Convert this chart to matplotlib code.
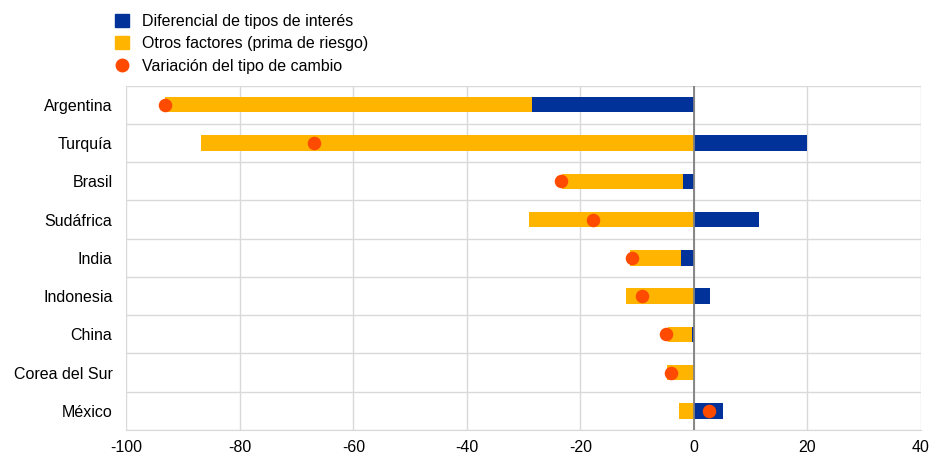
import matplotlib
matplotlib.use("Agg")
import matplotlib.pyplot as plt
from matplotlib.lines import Line2D
from matplotlib.patches import Patch
import numpy as np

plt.rcParams['font.family'] = ['Liberation Sans', 'DejaVu Sans']

countries = ["Argentina", "Turquía", "Brasil", "Sudáfrica", "India",
             "Indonesia", "China", "Corea del Sur", "México"]
diferencial = [-28.6, 20.0, -1.9, 11.4, -2.2, 2.9, -0.3, 0.0, 5.2]
otros = [-64.6, -86.8, -21.4, -29.1, -9.0, -11.9, -4.2, -4.8, -2.6]
variacion = [-93.2, -67.0, -23.5, -17.7, -11.0, -9.1, -4.9, -4.1, 2.7]
xticks = [-100, -80, -60, -40, -20, 0, 20, 40]

blue = "#003299"
yellow = "#FFB400"
orange = "#FF4B00"

fig = plt.figure(figsize=(9.31, 4.57), dpi=100)
ax = fig.add_axes([126.3/931, 1-430/457, (921-126.3)/931, (430-85.7)/457])

n = len(countries)
y = np.arange(n)
d = np.array(diferencial)
o = np.array(otros)
# diverging stack: yellow starts where blue ends if same sign, else at 0
left_o = np.where(np.sign(d) == np.sign(o), d, 0.0)
h = 0.4
ax.barh(y, d, height=h, color=blue, zorder=3)
ax.barh(y, o, left=left_o, height=h, color=yellow, zorder=3)
ax.scatter(variacion, y, s=95, color=orange, zorder=5, linewidths=0)

ax.set_ylim(n - 0.5, -0.5)
ax.set_xlim(-100, 40)
ax.set_xticks(xticks)
ax.set_xticklabels([str(t) for t in xticks], fontsize=11.5)
ax.set_yticks(y)
ax.set_yticklabels(countries, fontsize=11.5)
ax.set_yticks(np.arange(n + 1) - 0.5, minor=True)
ax.grid(axis='x', color='#d9d9d9', linewidth=1, zorder=0)
ax.grid(axis='y', which='minor', color='#d9d9d9', linewidth=1, zorder=0)
ax.tick_params(axis='both', which='both', length=0)
ax.tick_params(axis='x', pad=7)
ax.tick_params(axis='y', pad=10)
for s in ['top', 'right', 'left']:
    ax.spines[s].set_visible(False)
ax.spines['bottom'].set_color('#d9d9d9')
ax.axvline(0, color='#7f7f7f', linewidth=1.3, zorder=4)

handles = [Patch(color=blue, label="Diferencial de tipos de interés"),
           Patch(color=yellow, label="Otros factores (prima de riesgo)"),
           Line2D([], [], marker='o', linestyle='none', markersize=10,
                  markerfacecolor=orange, markeredgewidth=0,
                  label="Variación del tipo de cambio")]
fig.legend(handles=handles, loc='upper left', bbox_to_anchor=(104/931, 1.0 - 3/457),
           frameon=False, fontsize=11.5, handlelength=0.85, handleheight=0.85,
           handletextpad=0.85, labelspacing=0.45, borderaxespad=0.3)

fig.savefig("out.png", dpi=100)
